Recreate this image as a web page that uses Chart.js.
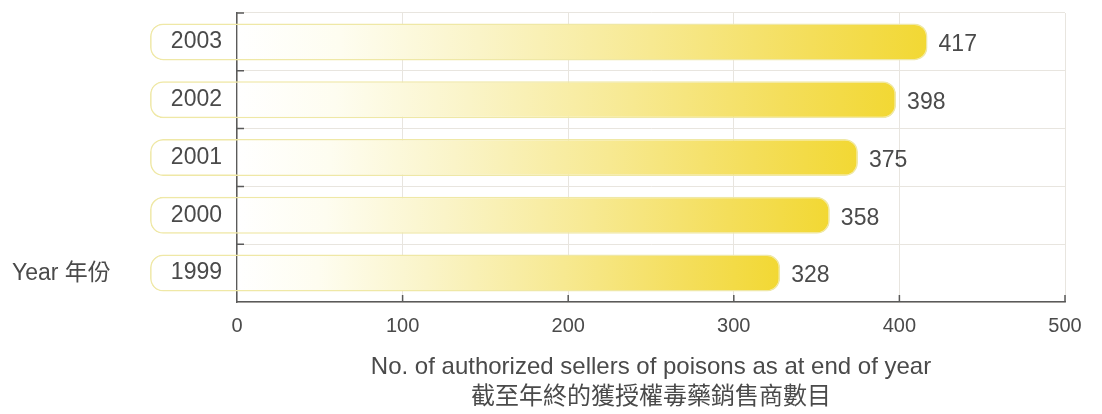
<!DOCTYPE html>
<html>
<head>
<meta charset="utf-8">
<script src="https://cdn.jsdelivr.net/npm/chart.js@4"></script>
<style>
  html, body { margin: 0; padding: 0; background: #fff; }
  #wrap { width: 1102px; height: 414px; }
</style>
</head>
<body>
<div id="wrap"><canvas id="sellers"></canvas></div>
<script>
const years = ['1999', '2000', '2001', '2002', '2003'];
const sellers = [328, 358, 375, 398, 417];
const xTicks = [0, 100, 200, 300, 400, 500];
const xTitle = ['No. of authorized sellers of poisons as at end of year', '截至年終的獲授權毒藥銷售商數目'];
const yTitle = 'Year 年份';

const FONT = "'Liberation Sans', 'Noto Sans CJK TC', Arial, sans-serif";
const TEXT = '#4a4a4a';
const AXIS = '#5a5a5a';
const GRID = '#e8e5df';
// bars start a little left of zero so the year sits inside the pill
const BAR_BASE = -52.5;

// white -> yellow fade, measured from the zero line to the bar end
const fill = (ctx) => {
    const chart = ctx.chart;
    if (!chart.chartArea || ctx.type !== 'data') return '#f3d939';
    const xs = chart.scales.x;
    const x0 = xs.getPixelForValue(BAR_BASE);
    const x1 = xs.getPixelForValue(ctx.raw);
    const xa = xs.getPixelForValue(0);
    const len = x1 - x0;
    const at = t => Math.min(1, ((xa - x0) + t * (x1 - xa)) / len);
    const g = chart.ctx.createLinearGradient(x0, 0, x1, 0);
    g.addColorStop(0, 'rgba(255,255,255,0)');
    g.addColorStop(at(0), 'rgba(255,255,255,0)');
    g.addColorStop(Math.min(1, at(0) + 0.002), '#ffffff');
    g.addColorStop(at(0.15), '#fefdf0');
    g.addColorStop(at(0.35), '#faf4c8');
    g.addColorStop(at(0.6), '#f7e991');
    g.addColorStop(at(0.83), '#f4de5a');
    g.addColorStop(1, '#f2d833');
    return g;
};

// value labels, tick marks pointing into the plot, and the year caption
const extras = {
    id: 'extras',
    afterDatasetsDraw(chart) {
        const ctx = chart.ctx;
        const meta = chart.getDatasetMeta(0);
        ctx.save();
        ctx.font = '23px ' + FONT;
        ctx.fillStyle = TEXT;
        ctx.textAlign = 'left';
        ctx.textBaseline = 'middle';
        meta.data.forEach((bar, i) => {
            ctx.fillText(String(sellers[i]), bar.x + 11, bar.y + 3);
        });
        ctx.restore();
    },
    afterDraw(chart) {
        const ctx = chart.ctx;
        const {left, top, bottom} = chart.chartArea;
        const xs = chart.scales.x;
        const ys = chart.scales.y;
        ctx.save();
        ctx.strokeStyle = AXIS;
        ctx.lineWidth = 1.5;
        ctx.beginPath();
        const step = (bottom - top) / years.length;
        for (let i = 0; i < years.length; i++) {
            const y = top + i * step;
            ctx.moveTo(left, y);
            ctx.lineTo(left + 7, y);
        }
        xTicks.slice(1).forEach(v => {
            const x = xs.getPixelForValue(v);
            ctx.moveTo(x, bottom);
            ctx.lineTo(x, bottom - 7);
        });
        ctx.stroke();

        ctx.font = '23px ' + FONT;
        ctx.fillStyle = TEXT;
        ctx.textAlign = 'left';
        ctx.textBaseline = 'middle';
        ctx.fillText(yTitle, 12, ys.getPixelForValue(0) + 1);
        ctx.restore();
    }
};

new Chart(document.getElementById('sellers'), {
    type: 'bar',
    data: {
        labels: years,
        datasets: [{
            data: sellers,
            base: BAR_BASE,
            clip: false,
            backgroundColor: fill,
            borderColor: '#efe8a6',
            borderWidth: 1.5,
            borderSkipped: false,
            borderRadius: 13,
            barPercentage: 0.64,
            categoryPercentage: 1
        }]
    },
    options: {
        indexAxis: 'y',
        responsive: true,
        maintainAspectRatio: false,
        animation: false,
        layout: { padding: { top: 13, right: 37, left: 0, bottom: 0 } },
        plugins: {
            legend: { display: false },
            tooltip: { enabled: false }
        },
        scales: {
            x: {
                min: 0,
                max: 500,
                afterBuildTicks: scale => { scale.ticks = xTicks.map(v => ({ value: v })); },
                afterFit: scale => {
                    scale.height = 112;
                    scale.paddingLeft = 0;
                    scale.paddingRight = 0;
                },
                grid: { color: GRID, lineWidth: 1, drawTicks: false },
                border: { color: AXIS, width: 1.5 },
                ticks: {
                    padding: 12,
                    color: TEXT,
                    font: { family: FONT, size: 20 }
                },
                title: {
                    display: true,
                    text: xTitle,
                    color: TEXT,
                    font: { family: FONT, size: 24, lineHeight: 1.25 },
                    padding: { top: 0, bottom: 2 }
                }
            },
            y: {
                reverse: true,
                afterFit: scale => {
                    scale.width = 237;
                    scale.paddingTop = 0;
                    scale.paddingBottom = 0;
                },
                grid: { color: GRID, lineWidth: 1, drawTicks: false },
                border: { color: AXIS, width: 1.5 },
                ticks: {
                    padding: 15,
                    color: TEXT,
                    font: { family: FONT, size: 23 }
                }
            }
        }
    },
    plugins: [extras]
});
</script>
</body>
</html>
